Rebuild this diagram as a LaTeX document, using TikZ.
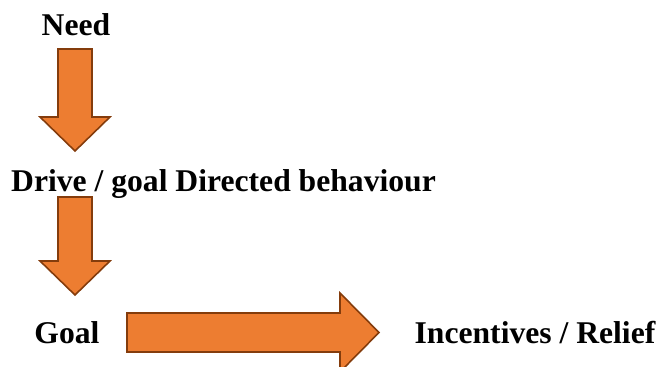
\documentclass[tikz,border=0pt]{standalone}
\usepackage{fontspec}
\setmainfont{Liberation Serif}
\definecolor{arroworange}{HTML}{ED7D31}
\definecolor{arrowedge}{HTML}{843C0C}
\tikzset{
  steptext/.style={font=\fontsize{18}{20}\selectfont\bfseries,inner sep=0pt},
  blockarrow/.style={draw=arrowedge,fill=arroworange,line width=0.9pt,line join=miter}
}
\begin{document}
\begin{tikzpicture}
    \useasboundingbox (0,0) rectangle (13.18,7.34);
    \clip (0,0) rectangle (13.18,7.34);
    %% Labels
    \node[steptext,anchor=base] (need) at (1.52,6.62) {Need};
    \node[steptext,anchor=base] (drive) at (4.47,3.50) {Drive / goal Directed behaviour};
    \node[steptext,anchor=base] (goal) at (1.34,0.46) {Goal};
    \node[steptext,anchor=base] (relief) at (10.70,0.46) {Incentives / Relief};
    %% Down arrows
    \draw[blockarrow] (1.16,6.36) -- (1.84,6.36) -- (1.84,5.00) -- (2.20,5.00) -- (1.50,4.32) -- (0.80,5.00) -- (1.16,5.00) -- cycle;
    \draw[blockarrow] (1.16,3.40) -- (1.84,3.40) -- (1.84,2.12) -- (2.20,2.12) -- (1.50,1.44) -- (0.80,2.12) -- (1.16,2.12) -- cycle;
    %% Right arrow
    \draw[blockarrow] (2.54,1.08) -- (6.80,1.08) -- (6.80,1.48) -- (7.58,0.69) -- (6.80,-0.10) -- (6.80,0.30) -- (2.54,0.30) -- cycle;
\end{tikzpicture}
\end{document}
